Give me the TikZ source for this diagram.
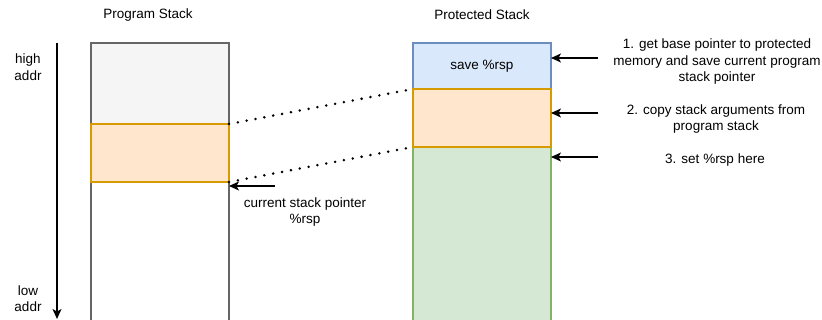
\documentclass[tikz,border=0pt]{standalone}
\usepackage{fontspec}
\setmainfont{Liberation Sans}
\usetikzlibrary{arrows.meta}
\definecolor{grayfill}{HTML}{F5F5F5}
\definecolor{graystroke}{HTML}{666666}
\definecolor{orangefill}{HTML}{FFE6CC}
\definecolor{orangestroke}{HTML}{D79B00}
\definecolor{bluefill}{HTML}{DAE8FC}
\definecolor{bluestroke}{HTML}{6C8EBF}
\definecolor{greenfill}{HTML}{D5E8D4}
\definecolor{greenstroke}{HTML}{82B366}
\tikzset{
  blk/.style={draw, line width=1.3pt, anchor=north west, minimum width=138pt, inner sep=0pt, outer sep=0pt},
  lbl/.style={align=center, inner sep=0pt, font=\fontsize{13.5}{16.5}\selectfont},
  ptr/.style={-{Stealth[length=10pt,width=9pt,inset=2.5pt]}, line width=1.2pt},
  dots/.style={line width=2.8pt, line cap=round, dash pattern=on 0pt off 9pt}
}
\begin{document}
\begin{tikzpicture}[x=1pt,y=-1pt]
\useasboundingbox[fill=white] (0,0) rectangle (822,320);
% program stack
\node[blk, fill=grayfill, draw=graystroke, minimum height=81pt] (pg) at (91,43) {};
\node[blk, fill=white, draw=graystroke, minimum height=140pt] (pw) at (91,182) {};
\node[blk, fill=orangefill, draw=orangestroke, minimum height=58pt] (po) at (91,124) {};
% protected stack
\node[blk, fill=bluefill, draw=bluestroke, minimum height=46pt, font=\fontsize{13.5}{16.5}\selectfont] (ps) at (413,43) {save \%rsp};
\node[blk, fill=greenfill, draw=greenstroke, minimum height=175pt] (pr) at (413,147) {};
\node[blk, fill=orangefill, draw=orangestroke, minimum height=58pt] (pa) at (413,89) {};
% titles
\node[lbl] (t1) at (148,15) {Program Stack};
\node[lbl] (t2) at (482,15) {Protected Stack};
% address arrow
\node[lbl] (hi) at (28,67) {high\\addr};
\node[lbl] (lo) at (28,298.5) {low\\addr};
\coordinate (atop) at (57,43);
\coordinate (abot) at (57,319);
\draw[ptr] (atop) -- (abot);
% dotted connectors
\draw[dots] (pg.south east) -- (pa.north west);
\draw[dots] (po.south east) -- (pr.north west);
% current stack pointer
\coordinate (c1) at (275,186);
\draw[ptr] (c1) -- (c1 -| po.east);
\node[lbl] (csp) at (305,212) {current stack pointer\\\%rsp};
% right arrows
\coordinate (r1) at (598,58);
\coordinate (r2) at (598,113);
\coordinate (r3) at (598,157);
\draw[ptr] (r1) -- (r1 -| ps.east);
\draw[ptr] (r2) -- (r2 -| pa.east);
\draw[ptr] (r3) -- (r3 -| pr.east);
\node[lbl] (n1) at (717,62) {1. get base pointer to protected\\memory and save current program\\stack pointer};
\node[lbl] (n2) at (716,119) {2. copy stack arguments from\\program stack};
\node[lbl] (n3) at (715,160) {3. set \%rsp here};
\end{tikzpicture}
\end{document}
